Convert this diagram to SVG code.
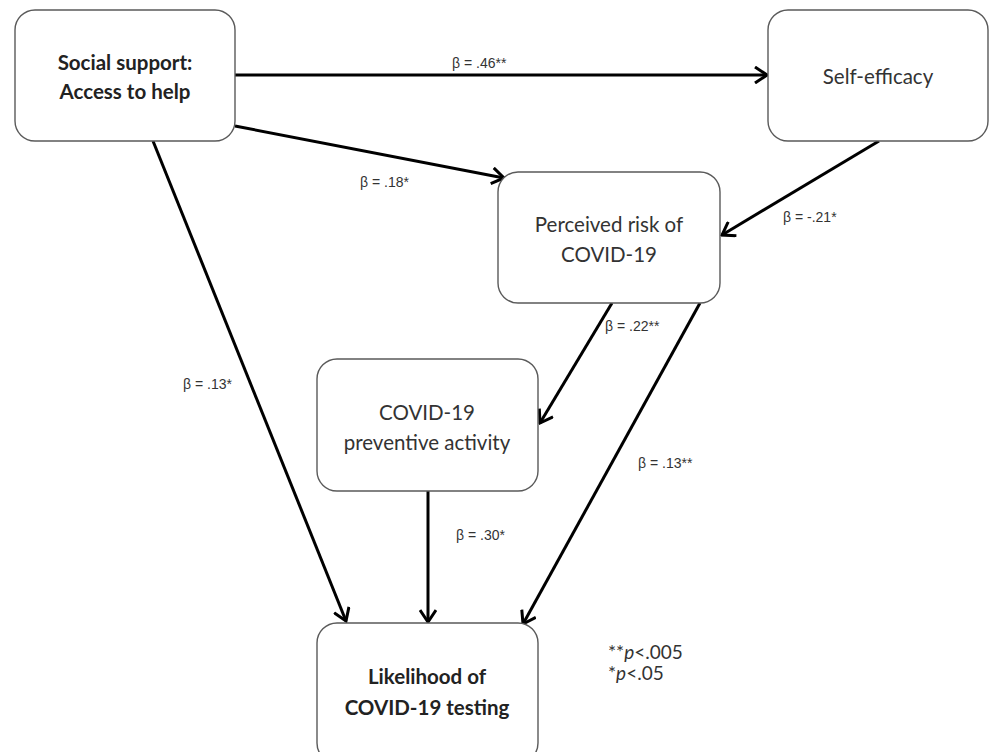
<svg xmlns="http://www.w3.org/2000/svg" width="989" height="752" viewBox="0 0 989 752">
<style>
.box{fill:#fff;stroke:#5a5a5a;stroke-width:1.4}
.nt{font-family:Lato,"Open Sans","Liberation Sans",sans-serif;font-size:20.5px;fill:#333;text-anchor:middle}
.b{font-weight:bold;fill:#222}
.lb{font-family:"Liberation Sans",Arial,sans-serif;font-size:14px;fill:#333}
.lg{font-family:Lato,"Open Sans","Liberation Sans",sans-serif;font-size:19px;fill:#333}
.cn{stroke:#000;stroke-width:3;fill:none;marker-end:url(#ah)}
</style>
<defs>
<marker id="ah" viewBox="0 0 15 18" refX="13" refY="9" markerWidth="15" markerHeight="18" markerUnits="userSpaceOnUse" orient="auto">
<path d="M1,1 L13,9 L1,17" fill="none" stroke="#000" stroke-width="3"/>
</marker>
</defs>
<rect width="989" height="752" fill="#fff"/>
<g id="connectors">
<line class="cn" x1="235" y1="75" x2="767" y2="75"/>
<line class="cn" x1="235" y1="126" x2="504" y2="178"/>
<line class="cn" x1="879" y1="141" x2="722" y2="235"/>
<line class="cn" x1="612" y1="303" x2="540" y2="423"/>
<line class="cn" x1="700" y1="303" x2="523" y2="624"/>
<line class="cn" x1="428" y1="491" x2="428" y2="622"/>
<line class="cn" x1="153" y1="141" x2="346" y2="621"/>
</g>
<g id="labels">
<text class="lb" x="452" y="68">β = .46**</text>
<text class="lb" x="360" y="187">β = .18*</text>
<text class="lb" x="783" y="222">β = -.21*</text>
<text class="lb" x="605" y="331">β = .22**</text>
<text class="lb" x="638" y="468">β = .13**</text>
<text class="lb" x="456" y="540">β = .30*</text>
<text class="lb" x="183" y="389">β = .13*</text>
</g>
<g id="social">
<rect class="box" x="15" y="10" width="220" height="131" rx="20"/>
<text class="nt b" x="125" y="70">Social support:</text>
<text class="nt b" x="125" y="99">Access to help</text>
</g>
<g id="selfefficacy">
<rect class="box" x="768" y="10" width="220" height="131" rx="20"/>
<text class="nt" x="878" y="84">Self-efficacy</text>
</g>
<g id="perceived">
<rect class="box" x="498" y="172" width="222" height="131" rx="20"/>
<text class="nt" x="609" y="232">Perceived risk of</text>
<text class="nt" x="609" y="262">COVID-19</text>
</g>
<g id="preventive">
<rect class="box" x="317" y="359" width="221" height="132" rx="20"/>
<text class="nt" x="427" y="420">COVID-19</text>
<text class="nt" x="427" y="450">preventive activity</text>
</g>
<g id="likelihood">
<rect class="box" x="317" y="623" width="221" height="140" rx="20"/>
<text class="nt b" x="427" y="684">Likelihood of</text>
<text class="nt b" x="427" y="715">COVID-19 testing</text>
</g>
<g id="legend">
<text class="lg" x="608" y="659">**<tspan font-style="italic">p</tspan>&lt;.005</text>
<text class="lg" x="608" y="680">*<tspan font-style="italic">p</tspan>&lt;.05</text>
</g>
</svg>
